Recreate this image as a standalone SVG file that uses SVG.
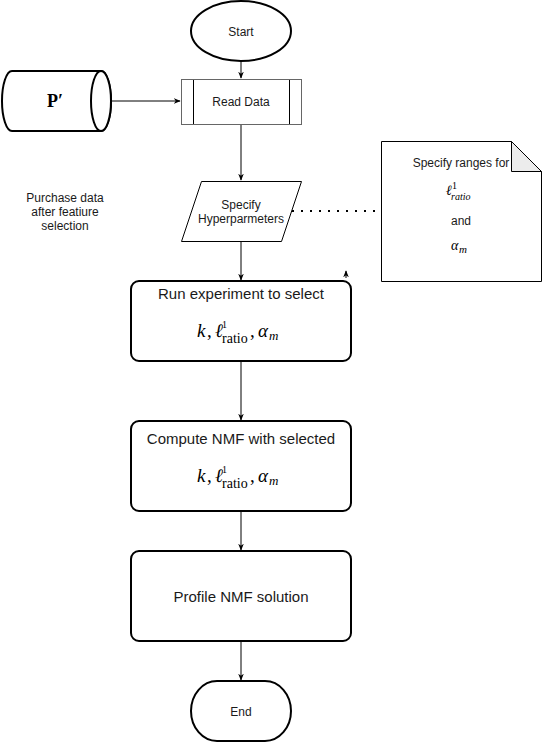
<svg xmlns="http://www.w3.org/2000/svg" width="542" height="742" viewBox="0 0 542 742">
<style>
.s{fill:#fff;stroke:#000;stroke-width:2}
.t{font-family:"Liberation Sans",Arial,sans-serif;fill:#1a1a1a;text-anchor:middle}
.m{font-family:"Liberation Serif","DejaVu Serif",serif;fill:#000;text-anchor:start}
.i{font-style:italic}
.e{stroke:#000;stroke-width:1;fill:none}
</style>
<defs>
<marker id="a" viewBox="0 0 10 10" refX="9" refY="5" markerWidth="7" markerHeight="7" orient="auto" markerUnits="userSpaceOnUse">
<path d="M0,1 L10,5 L0,9 L3,5 Z" fill="#000"/>
</marker>
</defs>
<rect width="542" height="742" fill="#fff"/>
<g id="connectors">
<line class="e" x1="241" y1="61" x2="241" y2="78" marker-end="url(#a)"/>
<line class="e" x1="111" y1="101" x2="180" y2="101" marker-end="url(#a)"/>
<line class="e" x1="241" y1="124" x2="241" y2="180" marker-end="url(#a)"/>
<line class="e" x1="241" y1="241" x2="241" y2="280" marker-end="url(#a)"/>
<line class="e" x1="241" y1="361" x2="241" y2="420" marker-end="url(#a)"/>
<line class="e" x1="241" y1="511" x2="241" y2="550" marker-end="url(#a)"/>
<line class="e" x1="241" y1="641" x2="241" y2="680" marker-end="url(#a)"/>
<line x1="292" y1="211" x2="380" y2="211" stroke="#000" stroke-width="2" stroke-dasharray="2 7" stroke-linecap="butt"/>
<line class="e" x1="346" y1="278" x2="346" y2="271" marker-end="url(#a)"/>
</g>
<g id="start">
<ellipse class="s" cx="241" cy="31" rx="50" ry="30"/>
<text class="t" x="241" y="36" font-size="12">Start</text>
</g>
<g id="source">
<path class="s" d="M12,71 L101,71 A10,30 0 0 1 101,131 L12,131 A10,30 0 0 1 12,71 Z"/>
<ellipse class="s" cx="101" cy="101" rx="10" ry="30"/>
<text x="55" y="107" font-family="'Liberation Serif','DejaVu Serif',serif" font-weight="bold" font-size="18" text-anchor="middle">P′</text>
</g>
<g id="read">
<rect x="181.5" y="79.5" width="120" height="45" fill="#fff" stroke="#666" stroke-width="1"/>
<line x1="193.5" y1="80" x2="193.5" y2="124" stroke="#000"/>
<line x1="289.5" y1="80" x2="289.5" y2="124" stroke="#000"/>
<text class="t" x="241" y="106" font-size="12">Read Data</text>
</g>
<g id="hyper">
<polygon points="201.5,181.5 301.5,181.5 281.5,241.5 181.5,241.5" fill="#fff" stroke="#000" stroke-width="1"/>
<text class="t" x="241" y="209" font-size="12">Specify</text>
<text class="t" x="241" y="223" font-size="12">Hyperparmeters</text>
</g>
<g id="note">
<path d="M381.5,141.5 L511.5,141.5 L541.5,171.5 L541.5,281.5 L381.5,281.5 Z" fill="#fff" stroke="#000" stroke-width="1"/>
<path d="M511.5,141.5 L511.5,171.5 L541.5,171.5 Z" fill="#ececec" stroke="#000" stroke-width="1"/>
<text class="t" x="461" y="167" font-size="12">Specify ranges for</text>
<text class="m i" x="446" y="195" font-size="14">ℓ</text>
<text class="m" x="452" y="189" font-size="10">1</text>
<text class="m i" x="451" y="200" font-size="10">ratio</text>
<text class="t" x="461" y="225" font-size="12">and</text>
<text class="m i" x="451" y="250" font-size="14">α</text>
<text class="m i" x="459" y="253" font-size="11">m</text>
</g>
<g id="purchase">
<text class="t" x="65" y="202" font-size="12">Purchase data</text>
<text class="t" x="65" y="216" font-size="12">after featiure</text>
<text class="t" x="65" y="230" font-size="12">selection</text>
</g>
<g id="run">
<rect class="s" x="131" y="281" width="220" height="80" rx="8"/>
<text class="t" x="241" y="299" font-size="15">Run experiment to select</text>
<text class="m" y="337" font-size="19"><tspan class="i" x="197">k</tspan><tspan x="207">,</tspan><tspan class="i" x="215">ℓ</tspan><tspan x="250">,</tspan><tspan class="i" x="258">α</tspan></text>
<text class="m" x="222" y="328" font-size="10">1</text>
<text class="m" x="222" y="343" font-size="14">ratio</text>
<text class="m i" x="269" y="340" font-size="13">m</text>
</g>
<g id="compute">
<rect class="s" x="131" y="421" width="220" height="90" rx="8"/>
<text class="t" x="241" y="444" font-size="15">Compute NMF with selected</text>
<text class="m" y="482" font-size="19"><tspan class="i" x="197">k</tspan><tspan x="207">,</tspan><tspan class="i" x="215">ℓ</tspan><tspan x="250">,</tspan><tspan class="i" x="258">α</tspan></text>
<text class="m" x="222" y="473" font-size="10">1</text>
<text class="m" x="222" y="488" font-size="14">ratio</text>
<text class="m i" x="269" y="485" font-size="13">m</text>
</g>
<g id="profile">
<rect class="s" x="131" y="551" width="220" height="90" rx="8"/>
<text class="t" x="241" y="602" font-size="15">Profile NMF solution</text>
</g>
<g id="end">
<rect class="s" x="191" y="681" width="100" height="60" rx="26" ry="30"/>
<text class="t" x="241" y="716" font-size="12">End</text>
</g>
</svg>
